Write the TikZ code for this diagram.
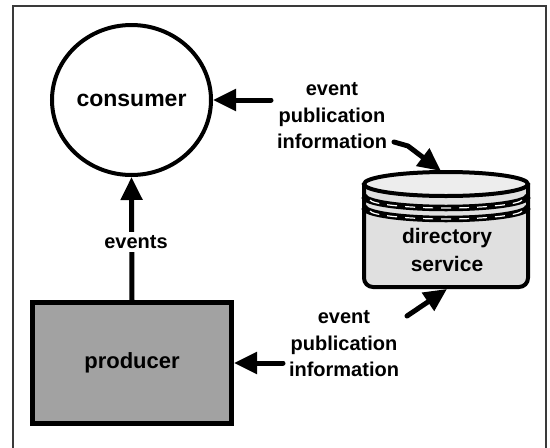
\documentclass[tikz,border=0pt]{standalone}
\usepackage{fontspec}
\setmainfont{Liberation Sans}
\usetikzlibrary{arrows.meta,calc,shapes.geometric}
\definecolor{boxgrey}{HTML}{A2A2A2}
\definecolor{cyltop}{HTML}{EDEDED}
\definecolor{cylbody}{HTML}{E0E0E0}
\definecolor{framegrey}{HTML}{3A3A3A}
\begin{document}
\begin{tikzpicture}[x=1pt,y=-1pt,
  lbl/.style={font=\bfseries\fontsize{20}{26.5}\selectfont, align=center, inner sep=0pt},
  conn/.style={line width=5pt, line cap=round, line join=round, -{Triangle[length=23pt,width=21pt]}},
  thick4/.style={line width=4pt, draw=black}]
\useasboundingbox (0,0) rectangle (550,448);
% frame
\draw[line width=1.3pt, framegrey] (13,448) -- (13,6) -- (546,6) -- (546,448);

% consumer
\node (cons) [ellipse, thick4, fill=white, minimum width=159pt, minimum height=150pt,
  inner sep=0pt, font=\bfseries\fontsize{23}{26}\selectfont] at (131.5,100) {consumer};

% producer
\node (prod) [draw=black, line width=5pt, fill=boxgrey, minimum width=199pt, minimum height=121pt,
  inner sep=0pt, font=\bfseries\fontsize{22}{26}\selectfont, text=black] at (132,363) {producer};

% directory service cylinder
\draw[thick4, fill=cylbody, rounded corners=9pt] (364,185) -- (364,287) -- (528,287) -- (528,185);
\foreach \yc in {196,207}{
  \draw[line width=6.5pt, black] (364,\yc) .. controls (364,\yc+6.6) and (400.7,\yc+12) .. (446,\yc+12)
     .. controls (491.3,\yc+12) and (528,\yc+6.6) .. (528,\yc);
  \draw[line width=1.2pt, white, dash pattern=on 10pt off 8pt] (370,\yc+4) .. controls (372,\yc+8) and (405,\yc+12) .. (446,\yc+12)
     .. controls (487,\yc+12) and (520,\yc+8) .. (522,\yc+4);
}
\draw[thick4, fill=cyltop] (446,184) ellipse [x radius=82, y radius=12];
\node (dir) [lbl, font=\bfseries\fontsize{21}{28}\selectfont, text=black] at (447,250) {directory\\service};

% labels
\node (ul) [lbl] at (332,116) {event\\publication\\information};
\node (ll) [lbl] at (344,344) {event\\publication\\information};

% connector end points
\coordinate (t1) at (271,100);
\coordinate (t2) at (394,142);
\coordinate (t2b) at (408,146);
\coordinate (dtop) at (441,171);
\coordinate (t3) at (283,363);
\coordinate (t4) at (407,316);
\coordinate (dbot) at (447,289);

% connectors
\draw[conn] (prod.north) -- (cons.south);
\node (ev) [lbl, fill=white, inner sep=3pt] at (136,242) {events};
\draw[conn] (t1) -- (cons.east);
\draw[conn] (t2) -- (t2b) -- (dtop);
\draw[conn] (t3) -- (prod.east);
\draw[conn] (t4) -- (dbot);
\end{tikzpicture}
\end{document}
